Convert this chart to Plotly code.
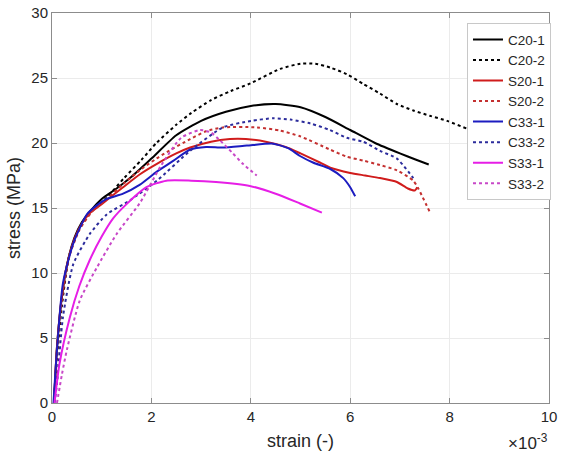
import plotly.graph_objects as go

# strain in units of 1e-3, stress in MPa
c20_1_x = [0.04, 0.1, 0.2, 0.3, 0.45, 0.6, 0.8, 1.0, 1.3, 1.6, 2.0, 2.5, 3.0, 3.5, 4.0, 4.5, 5.0, 5.5, 6.0, 6.5, 7.0, 7.3, 7.58]
c20_1_y = [0, 4.3, 8.2, 10.6, 12.7, 13.9, 14.9, 15.7, 16.5, 17.4, 18.8, 20.6, 21.7, 22.4, 22.85, 23.0, 22.75, 22.0, 21.0, 20.0, 19.2, 18.75, 18.35]

c20_2_x = [0.04, 0.1, 0.2, 0.35, 0.55, 0.8, 1.1, 1.45, 1.8, 2.1, 2.5, 2.8, 3.2, 3.6, 4.0, 4.59, 5.0, 5.3, 5.6, 5.93, 6.26, 6.6, 6.94, 7.27, 7.6, 7.95, 8.35, 8.7]
c20_2_y = [0, 3.5, 7.5, 11.4, 13.4, 14.8, 15.8, 17.3, 18.7, 20.0, 21.4, 22.3, 23.3, 24.0, 24.6, 25.7, 26.1, 26.1, 25.8, 25.3, 24.55, 23.8, 23.0, 22.5, 22.1, 21.7, 21.1, 20.6]

s20_1_x = [0.04, 0.1, 0.2, 0.3, 0.45, 0.6, 0.76, 1.0, 1.43, 1.77, 2.11, 2.5, 2.78, 3.2, 3.58, 3.9, 4.3, 4.7, 5.0, 5.39, 5.6, 6.0, 6.3, 6.6, 6.94, 7.16, 7.3, 7.35]
s20_1_y = [0, 4.3, 8.3, 10.6, 12.6, 13.8, 14.6, 15.3, 16.6, 17.6, 18.4, 19.2, 19.65, 20.1, 20.3, 20.3, 20.1, 19.7, 19.2, 18.5, 18.1, 17.7, 17.5, 17.3, 17.0, 16.5, 16.35, 16.6]

s20_2_x = [0.04, 0.1, 0.2, 0.35, 0.55, 0.8, 1.1, 1.45, 1.8, 2.1, 2.31, 2.78, 3.1, 3.44, 4.12, 4.59, 5.0, 5.59, 5.93, 6.26, 6.6, 6.94, 7.27, 7.37, 7.6]
s20_2_y = [0, 4.0, 8.0, 11.3, 13.3, 14.7, 15.7, 16.9, 18.0, 18.8, 19.3, 20.3, 20.9, 21.2, 21.2, 20.95, 20.5, 19.5, 18.95, 18.65, 18.3, 17.9, 17.1, 16.5, 14.7]

c33_1_x = [0.03, 0.1, 0.22, 0.43, 0.7, 0.9, 1.1, 1.43, 1.77, 2.11, 2.43, 2.78, 3.1, 3.44, 3.92, 4.45, 4.75, 4.99, 5.25, 5.6, 5.86, 6.0, 6.1]
c33_1_y = [0, 4.1, 9.2, 12.3, 14.5, 15.2, 15.7, 16.1, 16.8, 17.8, 18.6, 19.5, 19.7, 19.65, 19.8, 19.95, 19.6, 19.0, 18.5, 18.0, 17.3, 16.6, 15.9]

c33_2_x = [0.05, 0.1, 0.22, 0.43, 0.76, 1.1, 1.57, 2.11, 2.78, 3.44, 4.0, 4.45, 4.8, 5.2, 5.59, 5.93, 6.26, 6.6, 6.94, 7.27]
c33_2_y = [0, 1.5, 6.6, 10.7, 13.0, 14.5, 15.6, 17.1, 19.4, 21.2, 21.7, 21.9, 21.8, 21.5, 21.0, 20.4, 20.1, 19.4, 18.8, 17.3]

s33_1_x = [0.05, 0.15, 0.36, 0.55, 0.76, 1.0, 1.23, 1.5, 1.9, 2.3, 2.8, 3.3, 3.98, 4.5, 4.99, 5.43]
s33_1_y = [0, 3.0, 6.6, 9.0, 11.0, 12.8, 14.2, 15.3, 16.6, 17.1, 17.1, 17.0, 16.7, 16.1, 15.35, 14.65]

s33_2_x = [0.1, 0.2, 0.3, 0.56, 0.9, 1.3, 1.77, 2.2, 2.6, 2.98, 3.2, 3.38, 3.64, 3.84, 4.12]
s33_2_y = [0, 2.2, 4.1, 7.9, 10.4, 13.0, 15.4, 18.3, 20.4, 21.0, 20.8, 20.2, 19.2, 18.4, 17.5]

series = [
    ("C20-1", c20_1_x, c20_1_y, "#000000", "solid"),
    ("C20-2", c20_2_x, c20_2_y, "#000000", "dot"),
    ("S20-1", s20_1_x, s20_1_y, "#d01c1c", "solid"),
    ("S20-2", s20_2_x, s20_2_y, "#c43030", "dot"),
    ("C33-1", c33_1_x, c33_1_y, "#1c1cc0", "solid"),
    ("C33-2", c33_2_x, c33_2_y, "#2c2c9c", "dot"),
    ("S33-1", s33_1_x, s33_1_y, "#e61ee6", "solid"),
    ("S33-2", s33_2_x, s33_2_y, "#c848c8", "dot"),
]

x_ticks = [0, 2, 4, 6, 8, 10]
y_ticks = [0, 5, 10, 15, 20, 25, 30]

fig = go.Figure()
for name, xs, ys, col, dash in series:
    fig.add_trace(go.Scatter(x=xs, y=ys, name=name, mode="lines",
                             line=dict(color=col, width=2, dash=dash, shape="spline", smoothing=0.6)))

font = "Liberation Sans, Arial, sans-serif"
axcol = "#8c8c8c"
fig.update_layout(
    width=561, height=456,
    margin=dict(l=52, r=12, t=13, b=53, autoexpand=False),
    paper_bgcolor="white", plot_bgcolor="white",
    font=dict(family=font, size=15, color="#262626"),
    showlegend=True,
    legend=dict(x=1.004, y=0.974, xanchor="right", yanchor="top",
                bgcolor="white", bordercolor="#c8c8c8", borderwidth=1,
                font=dict(size=13.5, color="#262626"), tracegroupgap=0,
                itemwidth=30),
    xaxis=dict(range=[0, 10], tickvals=x_ticks, ticktext=[str(v) for v in x_ticks],
               showgrid=True, gridcolor="#ebebeb", zeroline=False, automargin=False,
               showline=True, linecolor=axcol, mirror="ticks",
               ticks="inside", ticklen=5, tickcolor=axcol,
               title=dict(text="strain (-)", standoff=10)),
    yaxis=dict(range=[0, 30], tickvals=y_ticks, ticktext=[str(v) for v in y_ticks],
               showgrid=True, gridcolor="#ebebeb", zeroline=False, automargin=False,
               showline=True, linecolor=axcol, mirror="ticks",
               ticks="inside", ticklen=5, tickcolor=axcol,
               title=dict(text="stress (MPa)", standoff=6)),
)
fig.add_annotation(xref="paper", yref="paper", x=1.002, y=-0.1, xanchor="right", yanchor="middle",
                   text="×10<sup>-3</sup>", showarrow=False, font=dict(size=17, color="#262626"))
fig.write_html("out.html", config={"displayModeBar": False},
               post_script="document.body.style.margin='0';")
